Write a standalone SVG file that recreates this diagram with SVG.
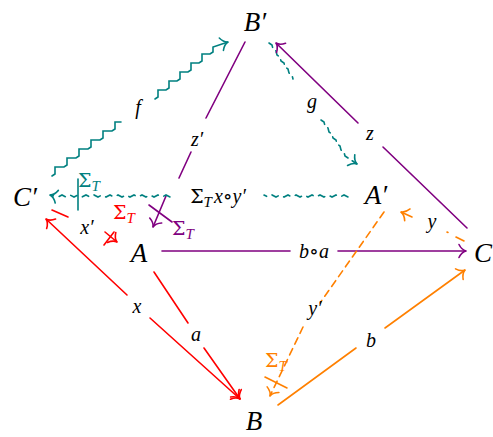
<svg xmlns="http://www.w3.org/2000/svg" width="493" height="437" viewBox="0 0 493 437">
<style>
.node{font-family:"Liberation Serif","DejaVu Serif",serif;font-style:italic;font-size:27px;fill:#000;text-anchor:middle}
.lbl{font-family:"Liberation Serif","DejaVu Serif",serif;font-style:italic;font-size:20px;fill:#000;text-anchor:middle}
.up{font-family:"DejaVu Serif",serif;font-style:normal;font-size:19px}
.sub{font-size:15px}
.ln{fill:none;stroke-width:1.6;stroke-linecap:round}
.teal{stroke:#008080}.purple{stroke:#800080}.red{stroke:#ff0000}.orange{stroke:#ff8000}
.dash{stroke-dasharray:7 5}
</style>
<defs>
<marker id="mt" viewBox="-9 -8 10 16" markerWidth="10" markerHeight="16" refX="0" refY="0" orient="auto" markerUnits="userSpaceOnUse" overflow="visible"><path d="M-7 -6.5C-5 -2.5 -2.5 -0.6 0 0C-2.5 0.6 -5 2.5 -7 6.5" fill="none" stroke="#008080" stroke-width="1.6" stroke-linecap="round"/></marker>
<marker id="mp" viewBox="-9 -8 10 16" markerWidth="10" markerHeight="16" refX="0" refY="0" orient="auto" markerUnits="userSpaceOnUse" overflow="visible"><path d="M-7 -6.5C-5 -2.5 -2.5 -0.6 0 0C-2.5 0.6 -5 2.5 -7 6.5" fill="none" stroke="#800080" stroke-width="1.6" stroke-linecap="round"/></marker>
<marker id="mr" viewBox="-9 -8 10 16" markerWidth="10" markerHeight="16" refX="0" refY="0" orient="auto" markerUnits="userSpaceOnUse" overflow="visible"><path d="M-7 -6.5C-5 -2.5 -2.5 -0.6 0 0C-2.5 0.6 -5 2.5 -7 6.5" fill="none" stroke="#ff0000" stroke-width="1.6" stroke-linecap="round"/></marker>
<marker id="mrs" viewBox="-9 -8 10 16" markerWidth="10" markerHeight="16" refX="0" refY="0" orient="auto-start-reverse" markerUnits="userSpaceOnUse" overflow="visible"><path d="M-7 -6.5C-5 -2.5 -2.5 -0.6 0 0C-2.5 0.6 -5 2.5 -7 6.5" fill="none" stroke="#ff0000" stroke-width="1.6" stroke-linecap="round"/></marker>
<marker id="mo" viewBox="-9 -8 10 16" markerWidth="10" markerHeight="16" refX="0" refY="0" orient="auto" markerUnits="userSpaceOnUse" overflow="visible"><path d="M-7 -6.5C-5 -2.5 -2.5 -0.6 0 0C-2.5 0.6 -5 2.5 -7 6.5" fill="none" stroke="#ff8000" stroke-width="1.6" stroke-linecap="round"/></marker>
</defs>

<g id="connectors">
  <!-- f : C' -> B' (squiggly) -->
  <path class="ln teal" d="M52 176 l3 -2 v-7 h9 l3 -2 v-7 h9 l3 -2 v-7 h9 l3 -2 v-7 h9 l3 -2 v-7 h9 l3 -2 v-7 h6"/>
  <path class="ln teal" d="M155 99 l3 -2 v-7 h8 l3 -2 v-7 h8 l3 -2 v-7 h8 l3 -2 v-7 h8 l3 -2 v-7 h8 l3 -2 v-5 L228 42" marker-end="url(#mt)"/>
  <!-- z' : B' -> A -->
  <path class="ln purple" d="M245 42 L206 118"/>
  <path class="ln purple" d="M191 152 L179 178"/>
  <path class="ln purple" d="M166 196 L153 227" marker-end="url(#mp)"/>
  <path class="ln purple" d="M149 205 L172 222"/>
  <!-- g : B' -> A' (dashed squiggly) -->
  <path class="ln teal" stroke-dasharray="6 5" d="M269 43 l3 2 l1 4 l3 2 l1 4 l3 2 l1 4 l3 2 l1 4 l3 2 l1 4 l3 2 l1 4"/>
  <path class="ln teal" stroke-dasharray="6 5" d="M321 120 l3 2 l1 4 l3 2 l1 4 l3 2 l1 4 l3 2 l1 4 l3 2 l1 4 l3 2 l1 4 L357 164" marker-end="url(#mt)"/>
  <!-- z : C -> B' -->
  <path class="ln purple" d="M467 228 L383 147"/>
  <path class="ln purple" d="M358 123 L276 43" marker-end="url(#mp)"/>
  <!-- Sigma x o y' : A' -> C' (dashed squiggly) -->
  <path class="ln teal" stroke-dasharray="7 6" d="M348 197 l-4 -2 l-4 2 l-4 -2 l-4 2 l-4 -2 l-4 2 l-4 -2 l-4 2 l-4 -2 l-4 2 l-4 -2 l-4 2 l-4 -2 l-4 2 l-4 -2 l-4 2 l-4 -2 l-4 2 l-4 -2 l-4 2 l-4 -2"/>
  <path class="ln teal" stroke-dasharray="7 6" d="M170 197 l-4 -2 l-4 2 l-4 -2 l-4 2 l-4 -2 l-4 2 l-4 -2 l-4 2 l-4 -2 l-4 2 l-4 -2 l-4 2 l-4 -2 l-4 2 l-4 -2 l-4 2 l-4 -2 l-4 2 l-4 -2 l-4 2 l-4 -2 l-4 2 l-4 -2 l-4 2 l-4 -2 l-4 2 l-4 -2 l-4 2 l-8 -2" marker-end="url(#mt)"/>
  <path class="ln teal" d="M78 179 L78 210"/>
  <!-- b o a : A -> C -->
  <path class="ln purple" d="M162 251 L290 251"/>
  <path class="ln purple" d="M338 251 L466 251" marker-end="url(#mp)"/>
  <!-- y : C -> A' -->
  <path class="ln orange" d="M447 232 L448 232.5"/>
  <path class="ln orange" d="M456 237 L464 241"/>
  <path class="ln orange" d="M412 217 L401 212" marker-end="url(#mo)"/>
  <!-- y' : A' -> B -->
  <path class="ln orange dash" d="M384 212 L320 303"/>
  <path class="ln orange dash" d="M303 327 L270 396" marker-end="url(#mo)"/>
  <path class="ln orange" d="M265 377 L287 388"/>
  <!-- b : B -> C -->
  <path class="ln orange" d="M278 405 L356 348"/>
  <path class="ln orange" d="M385 328 L465 270" marker-end="url(#mo)"/>
  <!-- a : A -> B -->
  <path class="ln red" d="M154 272 L188 323"/>
  <path class="ln red" d="M204 348 L240 399" marker-end="url(#mr)"/>
  <!-- x -->
  <path class="ln red" d="M46 219 L127 295" marker-start="url(#mrs)"/>
  <path class="ln red" d="M150 318 L240 399" marker-end="url(#mr)"/>
  <path class="ln red" d="M52 210 L68 217"/>
  <!-- x' -->
  <path class="ln red" d="M105 232 L117 242" marker-end="url(#mr)"/>
  <path class="ln red" d="M104 245 L114 232"/>
</g>

<g id="labels">
  <text class="lbl" x="138" y="114">f</text>
  <text class="lbl" x="197" y="146">z′</text>
  <text class="lbl" x="312" y="108">g</text>
  <text class="lbl" x="370" y="140">z</text>
  <text class="lbl" x="218" y="203"><tspan class="up">Σ</tspan><tspan class="sub" dy="4">T</tspan><tspan dy="-4" dx="2">x∘y′</tspan></text>
  <text class="lbl" x="314" y="258">b∘a</text>
  <text class="lbl" x="432" y="228">y</text>
  <text class="lbl" x="87" y="234">x′</text>
  <text class="lbl" x="137" y="313">x</text>
  <text class="lbl" x="196" y="341">a</text>
  <text class="lbl" x="315" y="315">y′</text>
  <text class="lbl" x="371" y="347">b</text>
  <text class="lbl" x="183" y="235" style="fill:#800080"><tspan class="up">Σ</tspan><tspan class="sub" dy="4">T</tspan></text>
  <text class="lbl" x="124" y="219" style="fill:#ff0000"><tspan class="up">Σ</tspan><tspan class="sub" dy="4">T</tspan></text>
  <text class="lbl" x="89" y="187" style="fill:#008080"><tspan class="up">Σ</tspan><tspan class="sub" dy="4">T</tspan></text>
  <text class="lbl" x="276" y="367" style="fill:#ff8000"><tspan class="up">Σ</tspan><tspan class="sub" dy="4">T</tspan></text>
</g>

<g id="node-Bp"><text class="node" x="255" y="31">B′</text></g>
<g id="node-Cp"><text class="node" x="25" y="206">C′</text></g>
<g id="node-Ap"><text class="node" x="376" y="204">A′</text></g>
<g id="node-A"><text class="node" x="139" y="262">A</text></g>
<g id="node-C"><text class="node" x="474" y="262" style="text-anchor:start">C</text></g>
<g id="node-B"><text class="node" x="254" y="430">B</text></g>
</svg>
